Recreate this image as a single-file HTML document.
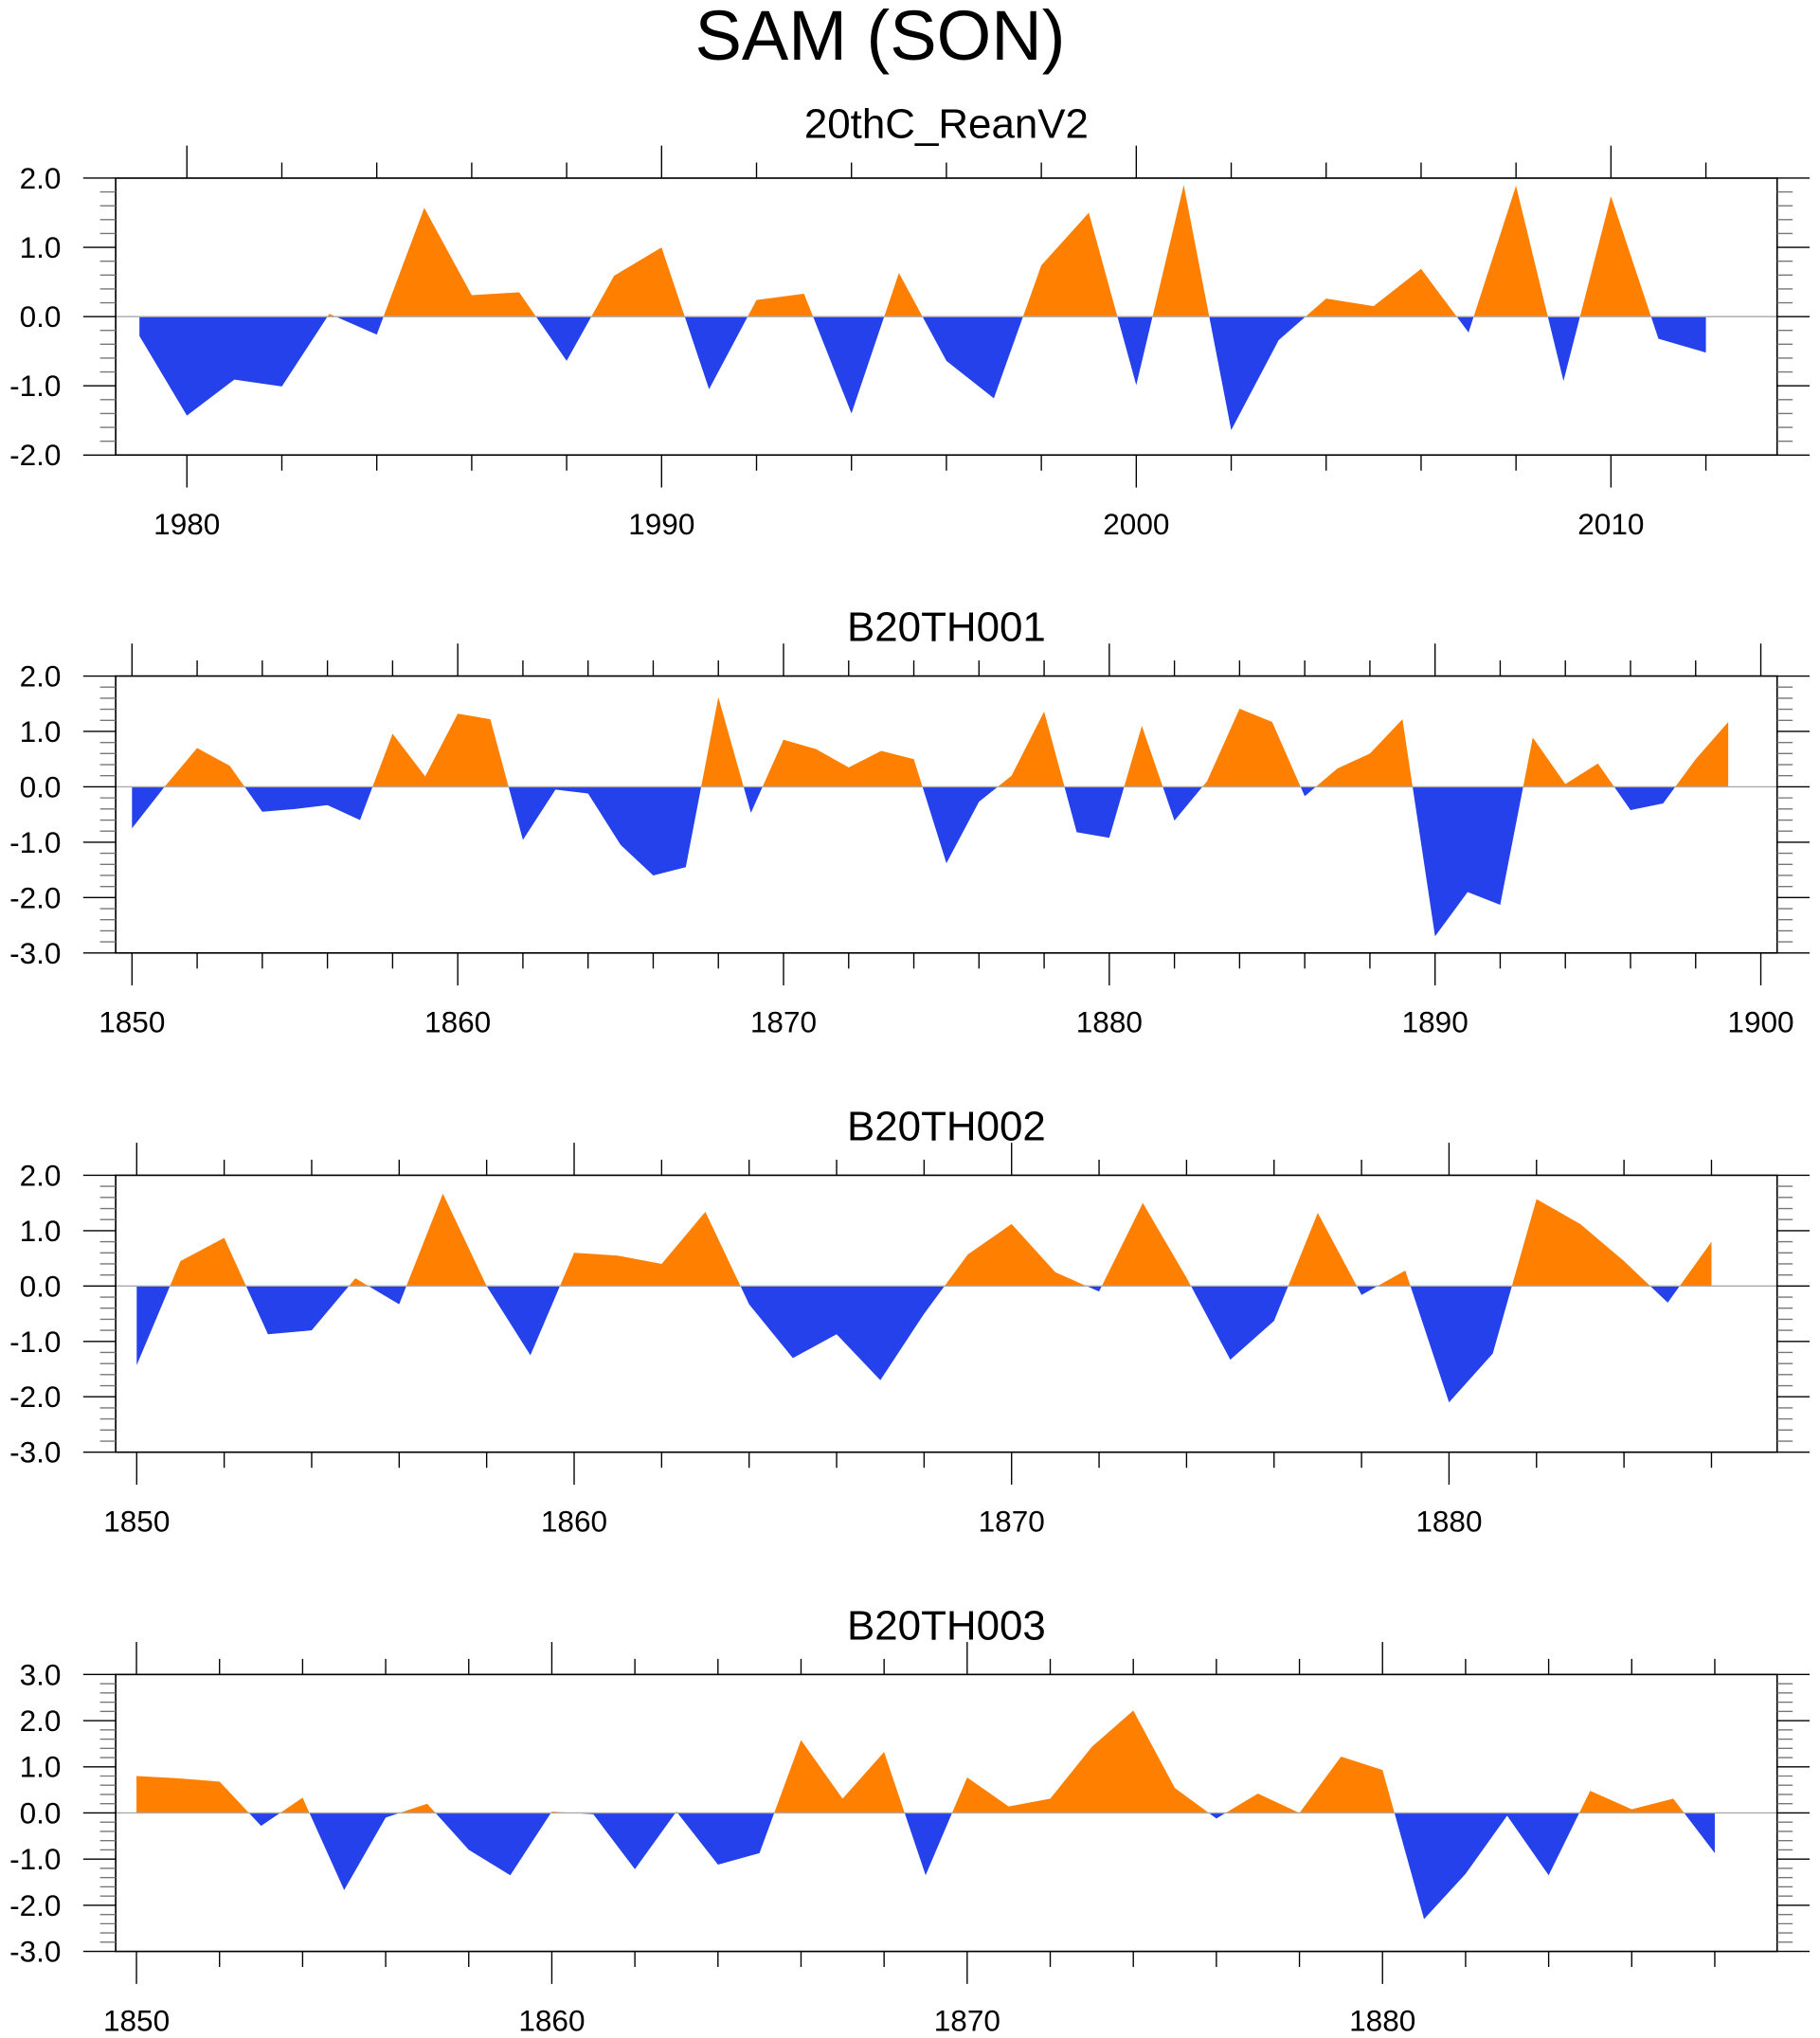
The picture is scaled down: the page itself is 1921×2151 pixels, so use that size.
<!DOCTYPE html>
<html><head><meta charset="utf-8"><style>
html,body{margin:0;padding:0;background:#fff;}
svg{display:block;font-family:"Liberation Sans",sans-serif;}
</style></head><body>
<svg id="chart" width="1921" height="2151" viewBox="0 0 1400 1567.6" xmlns="http://www.w3.org/2000/svg">
<text x="677" y="46" font-size="54" text-anchor="middle">SAM (SON)</text>
</svg>
<script>
const reanValues = [-0.28,-1.43,-0.91,-1.01,0.04,-0.26,1.57,0.31,0.35,-0.64,0.59,1.0,-1.05,0.24,0.33,-1.40,0.63,-0.64,-1.18,0.74,1.5,-0.99,1.9,-1.64,-0.34,0.26,0.15,0.69,-0.23,1.89,-0.93,1.74,-0.32,-0.52];
const b001Values = [-0.75,0.0,0.7,0.38,-0.45,-0.4,-0.33,-0.6,0.96,0.19,1.32,1.22,-0.96,-0.05,-0.12,-1.05,-1.6,-1.45,1.62,-0.47,0.85,0.68,0.35,0.65,0.5,-1.38,-0.27,0.2,1.36,-0.82,-0.92,1.1,-0.61,0.1,1.41,1.17,-0.17,0.33,0.6,1.22,-2.7,-1.9,-2.13,0.89,0.05,0.42,-0.42,-0.3,0.5,1.17];
const b002Values = [-1.43,0.45,0.87,-0.87,-0.8,0.14,-0.33,1.67,0.0,-1.25,0.6,0.55,0.4,1.34,-0.33,-1.3,-0.87,-1.7,-0.5,0.57,1.12,0.25,-0.1,1.5,0.15,-1.33,-0.63,1.32,-0.16,0.28,-2.1,-1.22,1.57,1.12,0.45,-0.3,0.8];
const b003Values = [0.8,0.75,0.68,-0.28,0.33,-1.67,-0.1,0.2,-0.8,-1.35,0.03,-0.03,-1.22,0.03,-1.12,-0.87,1.58,0.31,1.32,-1.35,0.77,0.14,0.31,1.43,2.22,0.54,-0.12,0.42,0.0,1.22,0.93,-2.3,-1.32,-0.06,-1.35,0.48,0.08,0.31,-0.87];
const panelTitles = ["20thC_ReanV2","B20TH001","B20TH002","B20TH003"];
const startYears = [1979,1850,1850,1850];
const xRanges = [[1978.5,2013.5],[1849.5,1900.5],[1849.52,1887.5],[1849.5,1889.5]];
const yRanges = [[-2,2],[-3,2],[-3,2],[-3,3]];
const xMajor = [[1980,1990,2000,2010],[1850,1860,1870,1880,1890,1900],[1850,1860,1870,1880],[1850,1860,1870,1880]];
const series = [reanValues,b001Values,b002Values,b003Values];

const NS="http://www.w3.org/2000/svg";
const svg=document.getElementById('chart');
function mk(tag,attrs,parent){const e=document.createElementNS(NS,tag);for(const k in attrs)e.setAttribute(k,attrs[k]);(parent||svg).appendChild(e);return e;}
const L=89,R=1367,tops=[137,520,904,1288],H=213;
for(let p=0;p<4;p++){
  const T=tops[p],B=T+H;
  const [x0,x1]=xRanges[p],[y0,y1]=yRanges[p];
  const xs=v=>L+(v-x0)/(x1-x0)*(R-L);
  const ys=v=>B-(v-y0)/(y1-y0)*H;
  const g=mk('g',{});
  
  
  const t=mk('text',{x:728,y:p===0?T-31:T-27,'font-size':32,'text-anchor':'middle'},g);
  
  
  t.textContent=panelTitles[p];
  const z=ys(0);
  const cp=mk('clipPath',{id:'pos'+p},g);mk('rect',{x:L,y:T,width:R-L,height:z-T},cp);
  const cn=mk('clipPath',{id:'neg'+p},g);mk('rect',{x:L,y:z,width:R-L,height:B-z},cn);
  const vals=series[p];
  let pts=xs(startYears[p])+','+z+' ';
  vals.forEach((v,i)=>{pts+=xs(startYears[p]+i)+','+ys(v)+' ';});
  pts+=xs(startYears[p]+vals.length-1)+','+z;
  const ap=mk('polygon',{points:pts,fill:'#FF8000','clip-path':'url(#pos'+p+')'},g);
  
  
  const an=mk('polygon',{points:pts,fill:'#2541EB','clip-path':'url(#neg'+p+')'},g);
  
  
  const zl=mk('line',{x1:L,x2:R,y1:z,y2:z,stroke:'#aaa','stroke-width':1},g);
  
  
  const fr=mk('rect',{x:L,y:T,width:R-L,height:H,fill:'none',stroke:'#000','stroke-width':1.2},g);
  
  
  for(let yr=Math.ceil(x0);yr<=x1;yr++){
    if(yr%2)continue;
    const maj=yr%10===0,len=maj?25:12,x=xs(yr);
    mk('line',{x1:x,x2:x,y1:T,y2:T-len,stroke:'#000','stroke-width':1},g);
    mk('line',{x1:x,x2:x,y1:B,y2:B+len,stroke:'#000','stroke-width':1},g);
  }
  xMajor[p].forEach(yr=>{
    const lb=mk('text',{x:xs(yr),y:B+61,'font-size':23,'text-anchor':'middle'},g);
    
    
    lb.textContent=yr;
  });
  for(let k=Math.round(y0*5);k<=Math.round(y1*5);k++){
    const v=k/5,y=ys(v),maj=k%5===0,len=maj?25:12;
    mk('line',{x1:L,x2:L-len,y1:y,y2:y,stroke:maj?'#000':'#777','stroke-width':1},g);
    mk('line',{x1:R,x2:R+len,y1:y,y2:y,stroke:maj?'#000':'#777','stroke-width':1},g);
    if(maj){
      const lb=mk('text',{x:47,y:y+8,'font-size':23,'text-anchor':'end'},g);
      
      
      lb.textContent=v.toFixed(1);
    }
  }
}
</script>
</body></html>
